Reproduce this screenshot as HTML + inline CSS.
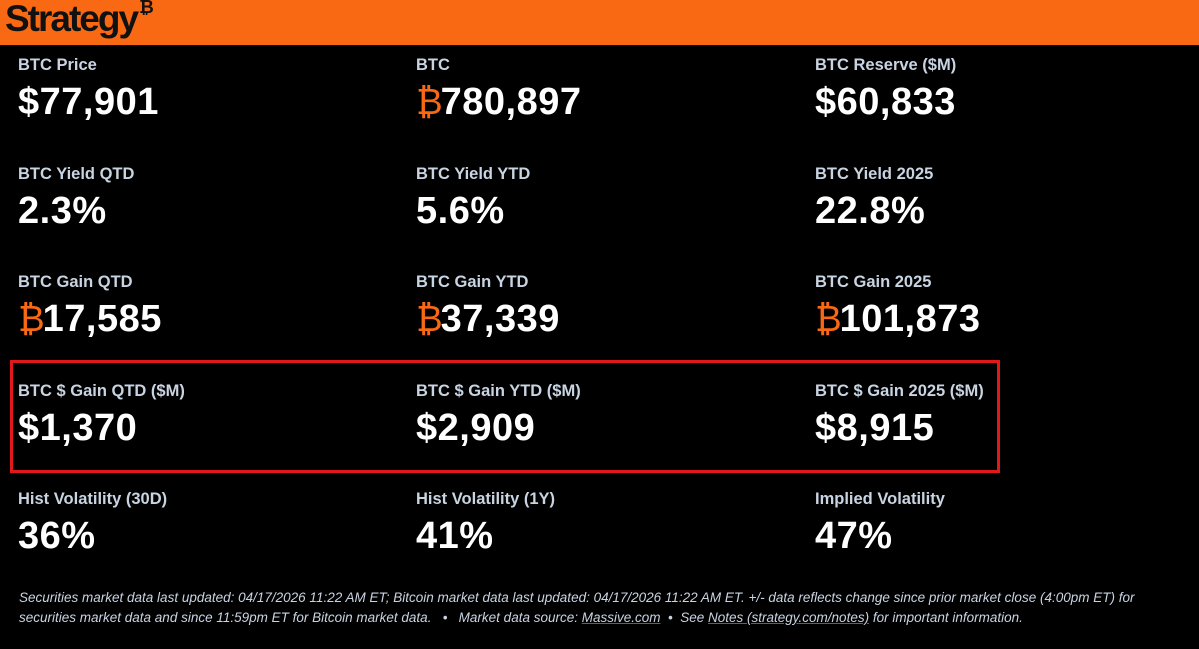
<!DOCTYPE html>
<html><head><style>
body{margin:0;width:1199px;height:649px;background:#000;overflow:hidden;font-family:"Liberation Sans",sans-serif;position:relative}
.hdr{position:absolute;left:0;top:0;width:1199px;height:45px;background:#f96914}
.logo{position:absolute;left:5px;top:-2px;font-size:37px;font-weight:bold;color:#111;letter-spacing:-2px}
.logo sup{font-size:18px;position:relative;top:-5px;left:2px}
.l{font-size:16.5px;font-weight:bold;color:#c9d4e2;position:absolute;white-space:nowrap}
.v{font-size:38px;font-weight:bold;color:#fff;position:absolute;white-space:nowrap;letter-spacing:0.5px}
.o{color:#f96914;font-weight:normal;font-size:36px;letter-spacing:-2px}
.box{position:absolute;left:10px;top:360px;width:984px;height:107px;border:3px solid #e0191b}
.ft{position:absolute;left:19px;top:588px;font-size:13.5px;font-style:italic;color:#c9d4e2;line-height:20px;white-space:nowrap}
.ft u{text-decoration-color:#c33}
</style></head><body>
<div class="hdr"><div class="logo">Strategy<sup>₿</sup></div></div>

<div class="l" style="left:18px;top:56px">BTC Price</div><div class="v" style="left:18px;top:81px">$77,901</div>
<div class="l" style="left:416px;top:56px">BTC</div><div class="v" style="left:416px;top:81px"><span class="o">₿</span>780,897</div>
<div class="l" style="left:815px;top:56px">BTC Reserve ($M)</div><div class="v" style="left:815px;top:81px">$60,833</div>

<div class="l" style="left:18px;top:165px">BTC Yield QTD</div><div class="v" style="left:18px;top:190px">2.3%</div>
<div class="l" style="left:416px;top:165px">BTC Yield YTD</div><div class="v" style="left:416px;top:190px">5.6%</div>
<div class="l" style="left:815px;top:165px">BTC Yield 2025</div><div class="v" style="left:815px;top:190px">22.8%</div>

<div class="l" style="left:18px;top:273px">BTC Gain QTD</div><div class="v" style="left:18px;top:298px"><span class="o">₿</span>17,585</div>
<div class="l" style="left:416px;top:273px">BTC Gain YTD</div><div class="v" style="left:416px;top:298px"><span class="o">₿</span>37,339</div>
<div class="l" style="left:815px;top:273px">BTC Gain 2025</div><div class="v" style="left:815px;top:298px"><span class="o">₿</span>101,873</div>

<div class="l" style="left:18px;top:382px">BTC $ Gain QTD ($M)</div><div class="v" style="left:18px;top:407px">$1,370</div>
<div class="l" style="left:416px;top:382px">BTC $ Gain YTD ($M)</div><div class="v" style="left:416px;top:407px">$2,909</div>
<div class="l" style="left:815px;top:382px">BTC $ Gain 2025 ($M)</div><div class="v" style="left:815px;top:407px">$8,915</div>

<div class="l" style="left:18px;top:490px">Hist Volatility (30D)</div><div class="v" style="left:18px;top:515px">36%</div>
<div class="l" style="left:416px;top:490px">Hist Volatility (1Y)</div><div class="v" style="left:416px;top:515px">41%</div>
<div class="l" style="left:815px;top:490px">Implied Volatility</div><div class="v" style="left:815px;top:515px">47%</div>

<div class="box"></div>
<div class="ft">Securities market data last updated: 04/17/2026 11:22 AM ET; Bitcoin market data last updated: 04/17/2026 11:22 AM ET. +/- data reflects change since prior market close (4:00pm ET) for<br>securities market data and since 11:59pm ET for Bitcoin market data. &nbsp; • &nbsp; Market data source: <u>Massive.com</u> &nbsp;• &nbsp;See <u>Notes (strategy.com/notes)</u> for important information.</div>
</body></html>
